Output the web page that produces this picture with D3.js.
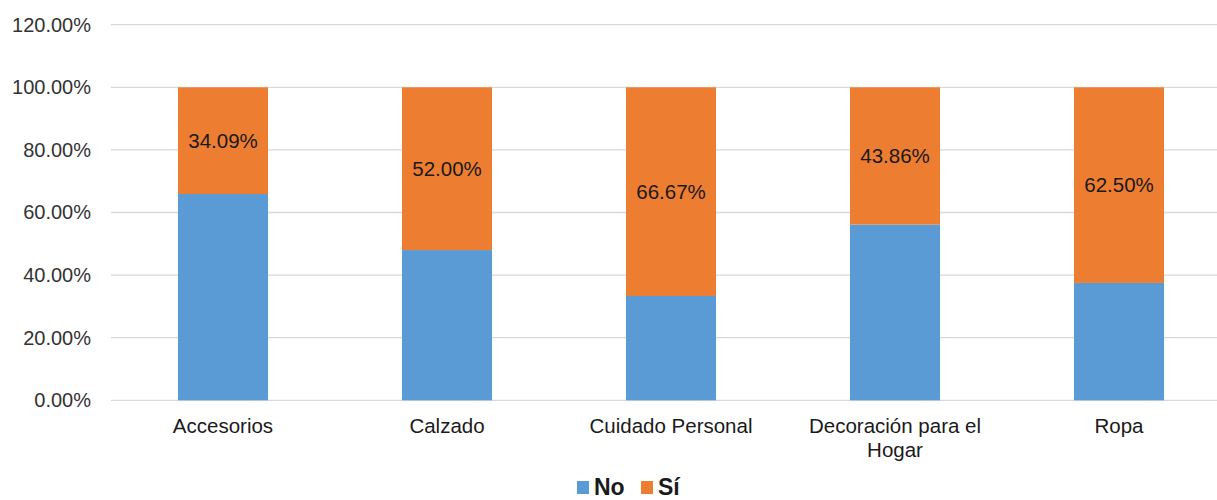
<!DOCTYPE html>
<html>
<head>
<meta charset="utf-8">
<script src="https://cdn.jsdelivr.net/npm/d3@7"></script>
<style>
  html, body { margin: 0; padding: 0; background: #fff; }
  svg { display: block; font-family: "Liberation Sans", Arial, sans-serif; }
</style>
</head>
<body>
<svg id="chart" width="1217" height="500"></svg>
<script>
// Categories and the share of "Sí" / "No" answers (percent)
const categories = ["Accesorios", "Calzado", "Cuidado Personal", "Decoración para el Hogar", "Ropa"];
const categoryLines = [["Accesorios"], ["Calzado"], ["Cuidado Personal"], ["Decoración para el", "Hogar"], ["Ropa"]];
const siValues = [34.09, 52.00, 66.67, 43.86, 62.50];
const noValues = [65.91, 48.00, 33.33, 56.14, 37.50];
const yTicks = [0, 20, 40, 60, 80, 100, 120];
const seriesNames = ["No", "Sí"];
const seriesColors = ["#5B9BD5", "#ED7D31"];

const svg = d3.select("#chart");
const W = 1217, H = 500;

const x = d3.scaleBand()
  .domain(categories)
  .range([111, 1231])
  .paddingInner(0.598)
  .paddingOuter(0.299);

const y = d3.scaleLinear().domain([0, 120]).range([400.3, 24.7]);

// Gridlines
svg.append("g")
  .selectAll("line")
  .data(yTicks)
  .join("line")
  .attr("x1", 111).attr("x2", W)
  .attr("y1", d => y(d)).attr("y2", d => y(d))
  .attr("stroke", "#D9D9D9").attr("stroke-width", 1.3);

// Y axis labels
const yAxis = d3.axisLeft(y).tickValues(yTicks).tickSize(0).tickPadding(0)
  .tickFormat(d => d.toFixed(2) + "%");
const gy = svg.append("g").attr("transform", "translate(91,0)").call(yAxis);
gy.select(".domain").remove();
gy.selectAll("text").attr("font-size", 20).attr("fill", "#333")
  .attr("font-family", "Liberation Sans, Arial, sans-serif");

// Stacked bars
const stackData = categories.map((c, i) => ({ cat: c, No: noValues[i], "Sí": siValues[i] }));
const stacked = d3.stack().keys(seriesNames)(stackData);

svg.append("g")
  .selectAll("g")
  .data(stacked)
  .join("g")
  .attr("fill", (d, i) => seriesColors[i])
  .selectAll("rect")
  .data(d => d)
  .join("rect")
  .attr("x", d => x(d.data.cat))
  .attr("width", x.bandwidth())
  .attr("y", d => y(d[1]))
  .attr("height", d => y(d[0]) - y(d[1]));

// Value labels on the "Sí" segments
svg.append("g")
  .selectAll("text")
  .data(stacked[1])
  .join("text")
  .attr("x", d => x(d.data.cat) + x.bandwidth() / 2)
  .attr("y", d => (y(d[0]) + y(d[1])) / 2)
  .attr("dy", "0.35em")
  .attr("text-anchor", "middle")
  .attr("font-size", 20.5)
  .attr("fill", "#1a1a1a")
  .text(d => d.data["Sí"].toFixed(2) + "%");

// Category labels
const xl = svg.append("g");
categories.forEach((c, i) => {
  const t = xl.append("text")
    .attr("x", x(c) + x.bandwidth() / 2)
    .attr("y", 433)
    .attr("text-anchor", "middle")
    .attr("font-size", 20.5)
    .attr("fill", "#1a1a1a");
  categoryLines[i].forEach((line, j) => {
    t.append("tspan").attr("x", x(c) + x.bandwidth() / 2).attr("dy", j === 0 ? 0 : 24).text(line);
  });
});

// Legend
const legend = svg.append("g");
const legendX = [577, 641];
seriesNames.forEach((name, i) => {
  legend.append("rect")
    .attr("x", legendX[i]).attr("y", 481)
    .attr("width", 12).attr("height", 13)
    .attr("fill", seriesColors[i]);
  legend.append("text")
    .attr("x", legendX[i] + 17).attr("y", 495)
    .attr("font-size", 23).attr("font-weight", "bold")
    .attr("fill", "#1a1a1a")
    .text(name);
});
</script>
</body>
</html>
